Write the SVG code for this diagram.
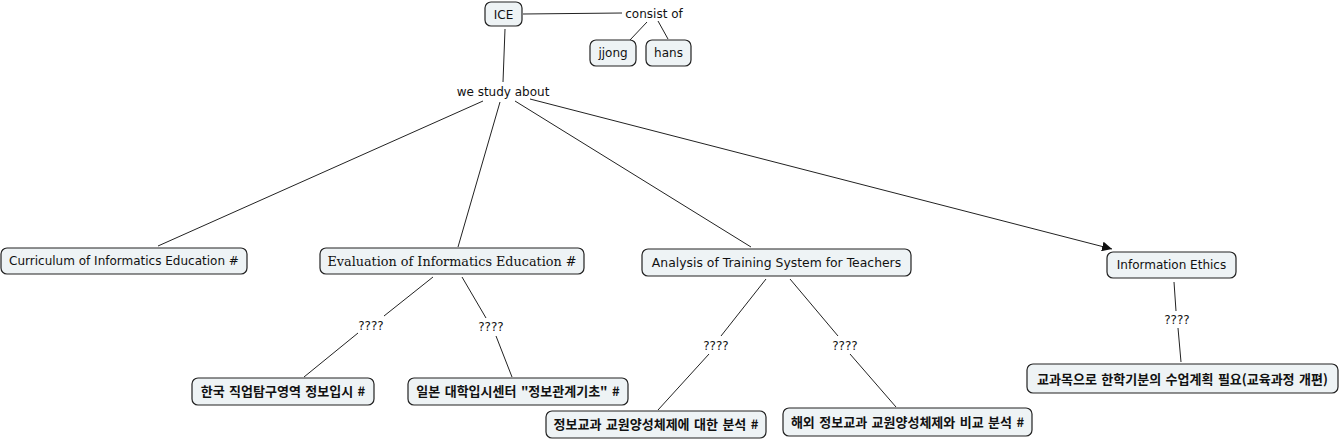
<svg xmlns="http://www.w3.org/2000/svg" width="1341" height="440" viewBox="0 0 1341 440">
<style>
.n rect{fill:#eef3f5;stroke:#222;stroke-width:1.2}
text{font-family:"DejaVu Sans",Verdana,sans-serif;font-size:12px;fill:#111;text-anchor:middle}
.s{font-family:"DejaVu Serif","Liberation Serif",serif;font-size:12.8px}
.k{font-family:"Noto Sans CJK KR","DejaVu Sans",sans-serif;font-weight:bold;font-size:13px;word-spacing:1.5px}
.c line{stroke:#222;stroke-width:1}
</style>
<defs>
<marker id="ah" viewBox="0 0 10 10" refX="10" refY="5" markerWidth="10" markerHeight="10" markerUnits="userSpaceOnUse" orient="auto"><path d="M0,0L10,5L0,10z" fill="#111"/></marker>
</defs>
<rect width="1341" height="440" fill="#fff"/>
<g class="c">
<line x1="523" y1="14" x2="622" y2="13"/>
<line x1="647" y1="22" x2="630" y2="40"/>
<line x1="658" y1="21" x2="668" y2="39"/>
<line x1="505" y1="29" x2="503" y2="82"/>
<line x1="483" y1="101" x2="158" y2="246"/>
<line x1="500" y1="102" x2="458" y2="247"/>
<line x1="515" y1="101" x2="751" y2="247"/>
<line x1="530" y1="99" x2="1112" y2="249" marker-end="url(#ah)"/>
<line x1="433" y1="277" x2="384" y2="316"/>
<line x1="358" y1="333" x2="304" y2="377"/>
<line x1="462" y1="277" x2="486" y2="318"/>
<line x1="496" y1="336" x2="512" y2="377"/>
<line x1="766" y1="279" x2="721" y2="336"/>
<line x1="709" y1="354" x2="658" y2="410"/>
<line x1="790" y1="279" x2="838" y2="336"/>
<line x1="850" y1="354" x2="896" y2="407"/>
<line x1="1174" y1="282" x2="1176" y2="311"/>
<line x1="1178" y1="328" x2="1181" y2="362"/>
<text x="654" y="18">consist of</text>
<text x="503" y="96">we study about</text>
<text x="371" y="330">????</text>
<text x="491" y="331">????</text>
<text x="716" y="350">????</text>
<text x="845" y="350">????</text>
<text x="1177" y="324">????</text>
</g>
<g id="ice" class="n"><rect x="485" y="2" width="37" height="24" rx="6"/><text x="503.5" y="18.5">ICE</text></g>
<g id="jjong" class="n"><rect x="590" y="40" width="46" height="26" rx="6"/><text x="613" y="57">jjong</text></g>
<g id="hans" class="n"><rect x="646" y="40" width="45" height="26" rx="6"/><text x="668.5" y="57">hans</text></g>
<g id="curriculum" class="n"><rect x="1" y="248" width="246" height="26" rx="6"/><text x="124" y="265">Curriculum of Informatics Education #</text></g>
<g id="evaluation" class="n"><rect x="320" y="248" width="264" height="26" rx="6"/><text class="s" x="452" y="265.5">Evaluation of Informatics Education #</text></g>
<g id="analysis" class="n"><rect x="642" y="249" width="269" height="27" rx="6"/><text x="776.5" y="266.5" style="font-size:12.4px">Analysis of Training System for Teachers</text></g>
<g id="ethics" class="n"><rect x="1107" y="252" width="129" height="26" rx="6"/><text x="1171.5" y="269">Information Ethics</text></g>
<g id="korea" class="n"><rect x="192" y="378" width="182" height="27" rx="6"/><text class="k" x="283" y="396">한국 직업탐구영역 정보입시 #</text></g>
<g id="japan" class="n"><rect x="408" y="378" width="220" height="27" rx="6"/><text class="k" x="518" y="396">일본 대학입시센터 "정보관계기초" #</text></g>
<g id="teacher" class="n"><rect x="546" y="411" width="220" height="27" rx="6"/><text class="k" x="656" y="429">정보교과 교원양성체제에 대한 분석 #</text></g>
<g id="overseas" class="n"><rect x="783" y="408" width="249" height="28" rx="6"/><text class="k" x="907.5" y="426.5">해외 정보교과 교원양성체제와 비교 분석 #</text></g>
<g id="plan" class="n"><rect x="1027" y="364" width="311" height="29" rx="6"/><text class="k" x="1182.5" y="383.5">교과목으로 한학기분의 수업계획 필요(교육과정 개편)</text></g>
</svg>
